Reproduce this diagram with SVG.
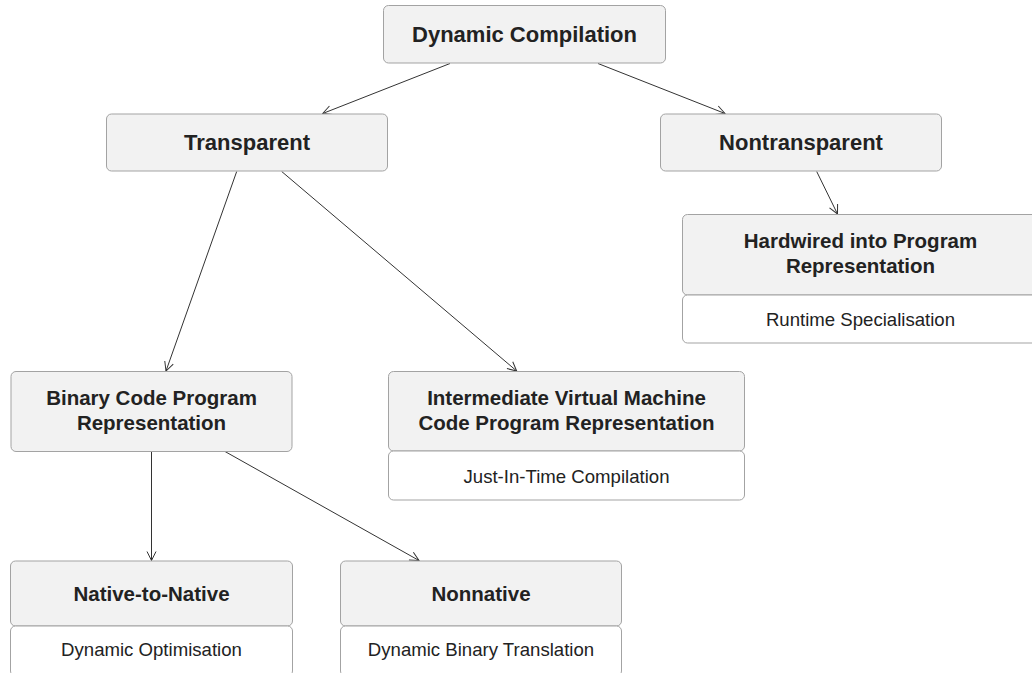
<svg xmlns="http://www.w3.org/2000/svg" width="1032" height="673" viewBox="0 0 1032 673">
<style>
.hd{fill:#f2f2f2;stroke:#a3a3a3;stroke-width:1}
.sb{fill:#ffffff;stroke:#a3a3a3;stroke-width:1}
.t1{font-family:"Liberation Sans",Arial,Helvetica,sans-serif;font-weight:bold;font-size:22px;fill:#222;text-anchor:middle}
.t2{font-family:"Liberation Sans",Arial,Helvetica,sans-serif;font-weight:bold;font-size:20.5px;fill:#222;text-anchor:middle}
.t3{font-family:"Liberation Sans",Arial,Helvetica,sans-serif;font-size:18.6px;fill:#222;text-anchor:middle}
.cn{fill:none;stroke:#333;stroke-width:1;marker-end:url(#arr)}
</style>
<defs>
<marker id="arr" viewBox="-10 -6 11 12" refX="0" refY="0" markerWidth="11" markerHeight="12" markerUnits="userSpaceOnUse" orient="auto">
<path d="M-9,-4.5 L0,0 L-9,4.5" fill="none" stroke="#333" stroke-width="1"/>
</marker>
</defs>
<rect width="1032" height="673" fill="#ffffff"/>
<g id="connectors">
<path class="cn" d="M450,63.5 L322.7,113.5"/>
<path class="cn" d="M598,63.5 L725,113.5"/>
<path class="cn" d="M236.7,171.5 L166,371"/>
<path class="cn" d="M281.7,171.5 L516.7,371"/>
<path class="cn" d="M816.7,171.5 L837.5,214"/>
<path class="cn" d="M151.5,451.5 L151.5,560.5"/>
<path class="cn" d="M225,451.5 L419,560.5"/>
</g>
<g id="dynamic-compilation">
<rect class="hd" x="383.5" y="5.5" width="282" height="57.5" rx="5"/>
<text class="t1" x="524.5" y="41.8">Dynamic Compilation</text>
</g>
<g id="transparent">
<rect class="hd" x="106.5" y="114" width="281" height="57" rx="5"/>
<text class="t1" x="247" y="150.2">Transparent</text>
</g>
<g id="nontransparent">
<rect class="hd" x="660.5" y="114" width="281" height="57" rx="5"/>
<text class="t1" x="801" y="150.2">Nontransparent</text>
</g>
<g id="hardwired">
<rect class="hd" x="682.5" y="214.5" width="356" height="80.5" rx="5"/>
<text class="t2" x="860.5" y="248.3">Hardwired into Program</text>
<text class="t2" x="860.5" y="272.5">Representation</text>
<rect class="sb" x="682.5" y="295" width="356" height="48" rx="5"/>
<text class="t3" x="860.5" y="326">Runtime Specialisation</text>
</g>
<g id="binary-code">
<rect class="hd" x="11" y="371.5" width="281" height="80" rx="5"/>
<text class="t2" x="151.5" y="405.3">Binary Code Program</text>
<text class="t2" x="151.5" y="429.5">Representation</text>
</g>
<g id="intermediate-vm">
<rect class="hd" x="388.5" y="371.5" width="356" height="79.5" rx="5"/>
<text class="t2" x="566.5" y="405.3">Intermediate Virtual Machine</text>
<text class="t2" x="566.5" y="429.5">Code Program Representation</text>
<rect class="sb" x="388.5" y="451" width="356" height="49" rx="5"/>
<text class="t3" x="566.5" y="482.5">Just-In-Time Compilation</text>
</g>
<g id="native-to-native">
<rect class="hd" x="10.5" y="561" width="282" height="65" rx="5"/>
<text class="t2" x="151.5" y="600.5">Native-to-Native</text>
<rect class="sb" x="10.5" y="626" width="282" height="50" rx="5"/>
<text class="t3" x="151.5" y="655.5">Dynamic Optimisation</text>
</g>
<g id="nonnative">
<rect class="hd" x="340.5" y="561" width="281" height="65" rx="5"/>
<text class="t2" x="481" y="600.5">Nonnative</text>
<rect class="sb" x="340.5" y="626" width="281" height="50" rx="5"/>
<text class="t3" x="481" y="655.5">Dynamic Binary Translation</text>
</g>
</svg>
